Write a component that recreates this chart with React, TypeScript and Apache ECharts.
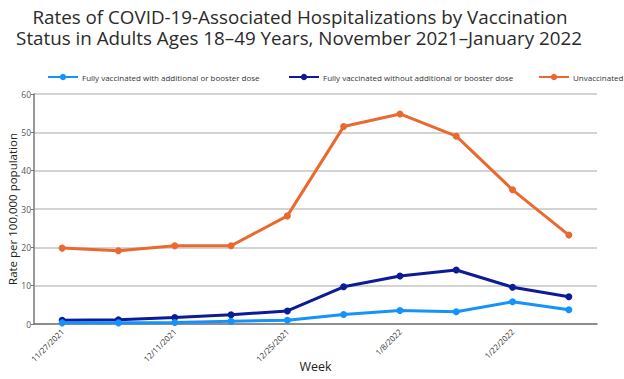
import React, { useEffect, useRef } from "react";
import * as echarts from "echarts";

const weeks = ["11/27/2021", "12/4/2021", "12/11/2021", "12/18/2021", "12/25/2021", "1/1/2022", "1/8/2022", "1/15/2022", "1/22/2022", "1/29/2022"];
const booster = [0.3, 0.3, 0.4, 0.7, 1.0, 2.5, 3.5, 3.2, 5.8, 3.7];
const noBooster = [1.0, 1.1, 1.7, 2.4, 3.4, 9.7, 12.5, 14.1, 9.6, 7.1];
const unvaccinated = [19.8, 19.1, 20.4, 20.4, 28.2, 51.5, 54.8, 49.0, 35.0, 23.2];
const yTicks = [0, 10, 20, 30, 40, 50, 60];
const titleLines = [
  "Rates of COVID-19-Associated Hospitalizations by Vaccination",
  "Status in Adults Ages 18–49 Years, November 2021–January 2022",
];

const C_BOOST = "#1593fb";
const C_NOBOOST = "#0c1b96";
const C_UNVAX = "#e9692f";
const FONT = "'Open Sans', 'Noto Sans', sans-serif";

export default function App() {
  const ref = useRef<HTMLDivElement>(null);
  useEffect(() => {
    const chart = echarts.init(ref.current!, null, { renderer: "svg" });
    const mkSeries = (name: string, data: number[], color: string, z: number) => ({
      name,
      type: "line",
      data,
      z,
      symbol: "circle",
      symbolSize: 7,
      lineStyle: { color, width: 3 },
      itemStyle: { color },
    });
    const legendCommon = {
      top: 68,
      itemWidth: 30,
      itemHeight: 8,
      itemGap: 4,
      textStyle: { fontSize: 8, color: "#333", fontFamily: FONT, padding: [0, 0, 0, -1] },
    };
    const titleStyle = { fontSize: 18.8, fontWeight: "normal", color: "#2a2a2a", fontFamily: FONT, lineHeight: 21 };
    chart.setOption({
      animation: false,
      title: [
        { text: titleLines[0], left: 300, textAlign: "center", top: 6, padding: 0, textStyle: titleStyle },
        { text: titleLines[1], left: 299, textAlign: "center", top: 27, padding: 0, textStyle: titleStyle },
      ],
      legend: [
        { ...legendCommon, left: 42, data: ["Fully vaccinated with additional or booster dose"] },
        { ...legendCommon, left: 283, data: ["Fully vaccinated without additional or booster dose"] },
        { ...legendCommon, left: 533, data: ["Unvaccinated"] },
      ],
      grid: { left: 34, right: 27, top: 94, bottom: 55, containLabel: false, outerBoundsMode: "none" },
      xAxis: {
        type: "category",
        data: weeks,
        boundaryGap: true,
        name: "Week",
        nameLocation: "middle",
        nameGap: 36,
        nameMoveOverlap: false,
        nameTextStyle: { fontSize: 12.5, color: "#222", fontFamily: FONT },
        axisLine: { lineStyle: { color: "#777", width: 1.5 } },
        axisTick: { alignWithLabel: true, length: 3, lineStyle: { color: "#777" }, interval: 0 },
        axisLabel: {
          interval: 1,
          rotate: 45,
          fontSize: 8,
          color: "#333",
          fontFamily: FONT,
          margin: 6,
        },
        splitLine: { show: false },
      },
      yAxis: {
        type: "value",
        min: yTicks[0],
        max: yTicks[yTicks.length - 1],
        interval: 10,
        name: "Rate per 100,000 population",
        nameLocation: "middle",
        nameGap: 16,
        nameMoveOverlap: false,
        nameTextStyle: { fontSize: 11.5, color: "#222", fontFamily: FONT },
        axisLine: { show: true, lineStyle: { color: "#777", width: 1.5 } },
        axisTick: { show: true, length: 3, lineStyle: { color: "#777" } },
        axisLabel: { fontSize: 8.5, color: "#555", fontFamily: FONT, margin: 3 },
        splitLine: { lineStyle: { color: "#c4c4c4", width: 1.5 } },
      },
      series: [
        mkSeries("Fully vaccinated with additional or booster dose", booster, C_BOOST, 4),
        mkSeries("Fully vaccinated without additional or booster dose", noBooster, C_NOBOOST, 3),
        mkSeries("Unvaccinated", unvaccinated, C_UNVAX, 2),
      ],
    });
    return () => chart.dispose();
  }, []);
  return <div ref={ref} style={{ width: 624, height: 379, position: "absolute", left: 0, top: 0, background: "#fff" }} />;
}
